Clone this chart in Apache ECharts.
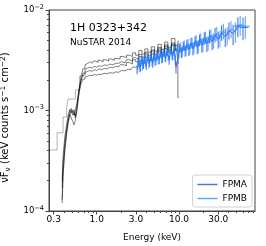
<!DOCTYPE html>
<html><head><meta charset="utf-8">
<script src="https://cdn.jsdelivr.net/npm/echarts@6/dist/echarts.min.js"></script>
<style>html,body{margin:0;padding:0;background:#fff}#c{width:266px;height:246px}</style>
</head><body><div id="c"></div>
<script>
// ---- tick labels ----
const xTickValues = [0.3, 1, 3, 10, 30];
const xMinorTicks = [0.4,0.5,0.6,0.7,0.8,0.9,2,4,5,6,7,8,9,20,40,50,60,70,80];
const yTickValues = [1e-4, 1e-3, 1e-2];
const yMinorTicks = [2e-4,3e-4,4e-4,5e-4,6e-4,7e-4,8e-4,9e-4,2e-3,3e-3,4e-3,5e-3,6e-3,7e-3,8e-3,9e-3];

// ---- Swift/XRT spectra (flux in units of 1e-3) ----
const xrtE = [0.38,0.40,0.42,0.44,0.46,0.48,0.50,0.52,0.54,0.56, 0.58,0.60,0.63,0.66,0.70,0.74,0.78,0.83,0.88,0.94, 1.0,1.07,1.15,1.24,1.34,1.45,1.57,1.7,1.85,2.0, 2.2,2.4,2.6,2.85,3.1,3.4,3.7,4.0,4.4,4.8, 5.3,5.8,6.4,7.0,7.7,8.5,9.4,10.0];
const xrt1 = [0.17,0.30,0.48,0.65,0.82,0.98,1.05,0.95,1.02,0.88, 1.05,1.30,1.70,2.20,2.60,2.85,2.95,3.05,2.95,3.10, 3.00,3.15,3.05,3.20,3.10,3.25,3.15,3.30,3.25,3.45, 3.35,3.55,3.45,3.75,3.55,3.95,3.65,4.10,3.80,4.30, 3.90,4.55,4.05,4.80,4.20,5.20,4.40,4.90];
const xrt2 = [0.13,0.25,0.42,0.60,0.78,0.92,0.85,0.78,0.72,0.80, 0.95,1.20,1.60,2.00,2.35,2.55,2.65,2.70,2.65,2.75, 2.70,2.80,2.75,2.85,2.80,2.90,2.85,2.95,2.95,3.05, 3.00,3.20,3.10,3.35,3.20,3.60,3.35,3.80,3.50,4.00, 3.65,4.25,3.80,4.50,4.00,4.70,4.10,4.60];
const xrt3 = [0.20,0.35,0.55,0.72,0.90,1.02,0.95,1.00,0.90,1.00, 1.15,1.35,1.70,2.00,2.25,2.40,2.45,2.50,2.45,2.55, 2.50,2.60,2.55,2.62,2.60,2.70,2.65,2.75,2.72,2.85, 2.80,3.00,2.90,3.20,3.05,3.45,3.20,3.65,3.35,3.90, 3.55,4.10,3.70,4.35,3.90,4.55,4.00,1.35];
const xrt4 = [0.12,0.22,0.40,0.58,0.75,0.90,1.00,0.90,0.95,0.85, 1.00,1.25,1.55,1.85,2.05,2.15,2.20,2.25,2.22,2.28, 2.25,2.30,2.28,2.35,2.32,2.38,2.35,2.42,2.40,2.50, 2.48,2.58,2.55,2.70,2.80,3.10,2.95,3.40,3.15,3.65, 3.40,3.90,3.55,4.15,3.80,4.45,3.95,4.30];
const lowEdgesE = [0.263,0.33,0.39,0.43,0.45,0.55,0.62,0.70];
const lowFlux   = [0.405,0.60,0.86,1.06,1.30,1.60,2.20,2.20];

// ---- NuSTAR FPMA / FPMB (flux in units of 1e-3) ----
const fpmaE = [3.1,3.25,3.4,3.55,3.7,3.85,4.0,4.2,4.4,4.6, 4.8,5.0,5.25,5.5,5.75,6.0,6.3,6.6,6.9,7.2, 7.6,8.0,8.4,8.8,9.2,9.7, 10.2,10.7,11.3,11.9,12.5,13.2,14.0,14.8,15.7,16.7,17.8,19.0, 20.3,21.8,23.5,25.3,27.5,30.0,33.0,36.5,40.5,45.5,52.0,60.0];
const fpmaF = [2.55,3.05,2.70,3.20,2.85,3.25,2.80,3.35,3.00,3.40, 2.95,3.50,3.10,3.55,3.20,3.70,3.30,3.75,3.35,3.85, 3.20,3.95,3.50,4.05,2.70,3.30, 4.20,3.75,4.40,3.90,4.55,4.00,4.70,4.10,4.90,4.25,5.05,4.45, 5.25,4.60,5.45,4.85,5.70,5.10,6.00,5.40,6.30,5.80,6.90,6.70];
const fpmaErr = [0.25,0.26,0.25,0.27,0.26,0.28,0.27,0.29,0.28,0.30, 0.29,0.31,0.30,0.32,0.31,0.33,0.32,0.34,0.33,0.35, 0.34,0.37,0.36,0.38,0.37,0.39, 0.42,0.44,0.46,0.48,0.50,0.52,0.55,0.57,0.60,0.63,0.66,0.70, 0.74,0.78,0.82,0.87,0.92,0.98,1.05,1.12,1.20,1.35,1.55,1.70];
const fpmaWideIdx = [48, 49];
const fpmaWideLo = [47, 56];
const fpmaWideHi = [56, 70];

const fpmbE = [3.15,3.3,3.45,3.6,3.75,3.9,4.1,4.3,4.5,4.7, 4.9,5.1,5.35,5.6,5.9,6.15,6.45,6.75,7.05,7.4, 7.8,8.2,8.6,9.0,9.5,10.0, 10.5,11.0,11.6,12.2,12.9,13.6,14.4,15.2,16.2,17.2,18.4,19.6, 21.0,22.6,24.4,26.4,28.8,31.5,34.7,38.5,43.0,48.5,55.5,64.0];
const fpmbF = [3.10,2.65,3.15,2.75,3.25,2.95,3.35,2.90,3.45,3.05, 3.50,3.10,3.60,3.20,3.70,3.25,3.80,3.40,3.90,3.45, 4.00,3.55,4.10,3.20,4.15,3.70, 4.35,3.85,4.50,3.95,4.65,4.10,4.80,4.20,5.00,4.35,5.20,4.55, 5.35,4.75,5.60,5.00,5.85,5.25,6.20,5.60,6.50,6.10,7.10,6.90];
const fpmbErr = [0.27,0.25,0.28,0.26,0.28,0.27,0.29,0.28,0.30,0.29, 0.31,0.30,0.32,0.31,0.33,0.32,0.34,0.33,0.35,0.34, 0.36,0.35,0.38,0.37,0.40,0.40, 0.43,0.45,0.47,0.49,0.51,0.53,0.56,0.58,0.62,0.64,0.68,0.71, 0.75,0.80,0.84,0.88,0.94,1.00,1.08,1.15,1.25,1.40,1.60,1.75];
const fpmbWideIdx = [48, 49];
const fpmbWideLo = [50, 60];
const fpmbWideHi = [60, 73];

const U = 1e-3;
const FONT = 'DejaVu Sans';
const colA = 'rgba(60,100,235,0.9)';
const colB = 'rgba(30,144,255,0.75)';

function pairs(E, F){ return E.map((e,i)=>[e, F[i]*U]); }
function errRows(E, F, Er, wIdx, wLo, wHi){
  return E.map((e,i)=>{
    const k = wIdx.indexOf(i);
    return [e, (F[i]-Er[i])*U, (F[i]+Er[i])*U, F[i]*U, k>=0?wLo[k]:0, k>=0?wHi[k]:0];
  });
}
function errSeries(name, rows, color){
  return {
    type:'custom', name:name, silent:true, z:3,
    encode:{x:0, y:[1,2]},
    data: rows,
    renderItem:function(params, api){
      const x=api.value(0), lo=api.value(1), hi=api.value(2), yc=api.value(3), xl=api.value(4), xh=api.value(5);
      const p1=api.coord([x,lo]), p2=api.coord([x,hi]);
      const ch=[{type:'line',shape:{x1:p1[0],y1:p1[1],x2:p2[0],y2:p2[1]},style:{stroke:color,lineWidth:1.1}}];
      if (xl>0 && xh>0){
        const q1=api.coord([xl,yc]), q2=api.coord([xh,yc]);
        ch.push({type:'line',shape:{x1:q1[0],y1:q1[1],x2:q2[0],y2:q2[1]},style:{stroke:color,lineWidth:1}});
      }
      return {type:'group', children:ch};
    }
  };
}
function xrtSeries(F, op){
  return {type:'line', step:'middle', showSymbol:false, silent:true, z:1,
    data: pairs(xrtE, F), lineStyle:{color:'#000', width:1, opacity:op}, itemStyle:{color:'#555'}};
}

const chart = echarts.init(document.getElementById('c'), null, {renderer:'canvas'});
const axisCommon = {
  type:'log', logBase:10, splitLine:{show:false},
  axisLine:{show:true, lineStyle:{color:'#444', width:1}}
};
const option = {
  animation:false,
  textStyle:{fontFamily:FONT},
  grid:{left:49, right:11, top:10, bottom:35, containLabel:false, outerBoundsMode:'none',
    show:true, borderColor:'#444', borderWidth:1, backgroundColor:'transparent'},
  title:[
    {text:'1H 0323+342', left:70, top:23, padding:0, textStyle:{fontSize:11, fontWeight:'normal', color:'#000', fontFamily:FONT}},
    {text:'NuSTAR 2014', left:70, top:38, padding:0, textStyle:{fontSize:9, fontWeight:'normal', color:'#000', fontFamily:FONT}}
  ],
  legend:{
    data:[{name:'FPMA'},{name:'FPMB'}], orient:'vertical', right:14, bottom:39,
    icon:'rect', itemWidth:20, itemHeight:1.5, itemGap:3,
    padding:[4,5,3,5], borderColor:'#d0d0d0', borderWidth:1, borderRadius:3, backgroundColor:'rgba(255,255,255,0.85)',
    textStyle:{fontSize:9, lineHeight:11, color:'#000', fontFamily:FONT}
  },
  xAxis:[
    Object.assign({}, axisCommon, {
      min:0.263, max:84, position:'bottom', name:'Energy (keV)', nameLocation:'middle', nameGap:22,
      nameTextStyle:{fontSize:9, color:'#000', fontFamily:FONT},
      axisTick:{show:true, length:3.5, customValues:xTickValues, lineStyle:{color:'#444'}},
      axisLabel:{show:true, customValues:xTickValues, margin:4, fontSize:9, color:'#000', fontFamily:FONT,
        formatter:function(v){ return Number(v).toFixed(1); }}
    }),
    Object.assign({}, axisCommon, {
      min:0.263, max:84, position:'bottom', axisLine:{show:false},
      axisTick:{show:true, length:2, customValues:xMinorTicks, lineStyle:{color:'#444'}},
      axisLabel:{show:false}
    })
  ],
  yAxis:[
    Object.assign({}, axisCommon, {
      min:1e-4, max:1e-2, position:'left',
      name:'{a|νF}{sub|ν}{a| (keV counts s}{sup|−1}{a| cm}{sup|−2}{a|)}',
      nameLocation:'middle', nameGap:37,
      nameTextStyle:{color:'#000', fontFamily:FONT, padding:[0,14,0,0], rich:{
        a:{fontSize:10, lineHeight:13, fontFamily:FONT, color:'#000'},
        sub:{fontSize:7.5, lineHeight:13, verticalAlign:'bottom', fontFamily:FONT, color:'#000'},
        sup:{fontSize:7.5, lineHeight:13, verticalAlign:'top', fontFamily:FONT, color:'#000'}
      }},
      axisTick:{show:true, length:3.5, customValues:yTickValues, lineStyle:{color:'#444'}},
      axisLabel:{show:true, customValues:yTickValues, margin:5, color:'#000',
        formatter:function(v){ const p=Math.round(Math.log10(v)); return '{b|10}{s|−'+Math.abs(p)+'}'; },
        rich:{
          b:{fontSize:8.5, lineHeight:13, fontFamily:FONT, color:'#000'},
          s:{fontSize:6.5, lineHeight:13, verticalAlign:'top', fontFamily:FONT, color:'#000'}
        }}
    }),
    Object.assign({}, axisCommon, {
      min:1e-4, max:1e-2, position:'left', axisLine:{show:false},
      axisTick:{show:true, length:2, customValues:yMinorTicks, lineStyle:{color:'#444'}},
      axisLabel:{show:false}
    })
  ],
  series:[
    {type:'line', step:'end', showSymbol:false, silent:true, z:1, data:pairs(lowEdgesE, lowFlux),
      lineStyle:{color:'#000', width:1, opacity:0.3}},
    xrtSeries(xrt1, 0.5), xrtSeries(xrt2, 0.5), xrtSeries(xrt3, 0.5), xrtSeries(xrt4, 0.5),
    errSeries('FPMA err', errRows(fpmaE, fpmaF, fpmaErr, fpmaWideIdx, fpmaWideLo, fpmaWideHi), colA),
    {type:'line', name:'FPMA', showSymbol:false, silent:true, z:4, data:pairs(fpmaE, fpmaF),
      lineStyle:{color:colA, width:1}, itemStyle:{color:colA}},
    errSeries('FPMB err', errRows(fpmbE, fpmbF, fpmbErr, fpmbWideIdx, fpmbWideLo, fpmbWideHi), colB),
    {type:'line', name:'FPMB', showSymbol:false, silent:true, z:5, data:pairs(fpmbE, fpmbF),
      lineStyle:{color:colB, width:1}, itemStyle:{color:colB}}
  ]
};
chart.setOption(option);
</script></body></html>
